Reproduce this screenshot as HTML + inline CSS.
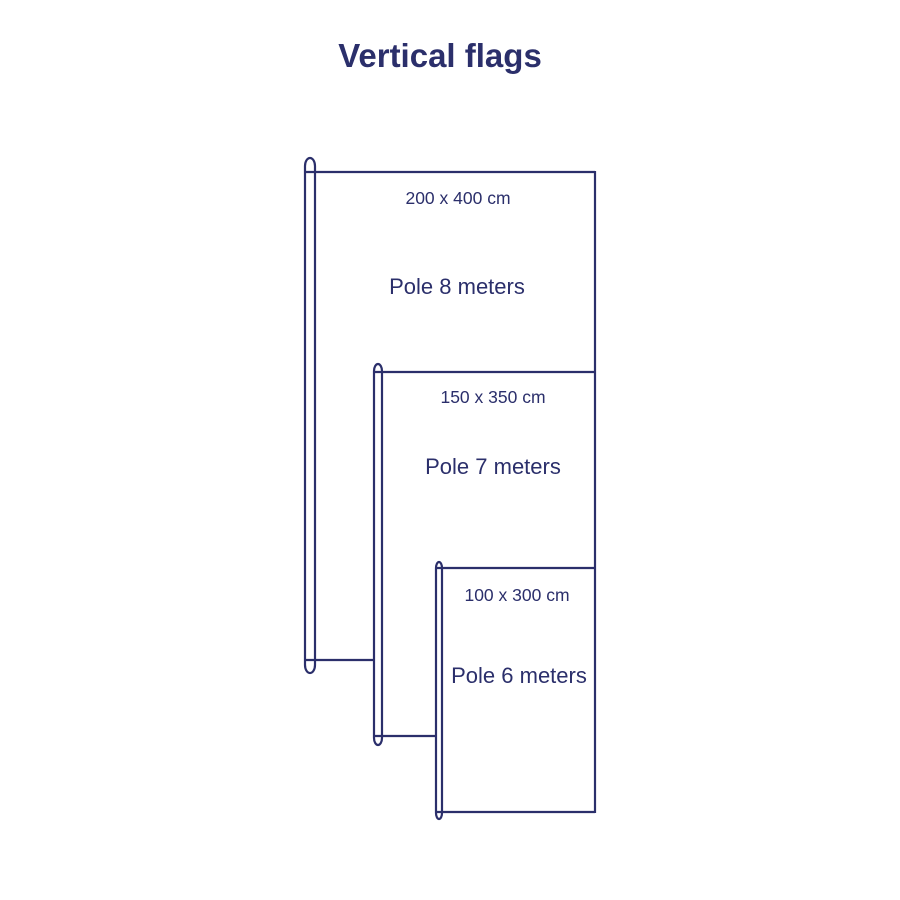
<!DOCTYPE html>
<html><head><meta charset="utf-8"><style>
html,body{margin:0;padding:0;background:#fff;}
svg{display:block;}
text{font-family:"Liberation Sans",sans-serif;fill:#2b2f6b;}
</style></head><body>
<svg width="900" height="900" viewBox="0 0 900 900" xmlns="http://www.w3.org/2000/svg">
<g fill="none" stroke="#2b2f6b" stroke-width="2.2">
  <rect x="305" y="158" width="10" height="515" rx="5" ry="8"/>
  <line x1="305" y1="172" x2="595" y2="172"/>
  <line x1="305" y1="660" x2="374" y2="660"/>
  <rect x="374" y="364" width="8" height="381" rx="4" ry="7"/>
  <line x1="374" y1="372" x2="595" y2="372"/>
  <line x1="374" y1="736" x2="436" y2="736"/>
  <rect x="436" y="562" width="6" height="257" rx="3" ry="6"/>
  <line x1="436" y1="568" x2="595" y2="568"/>
  <line x1="436" y1="812" x2="595" y2="812"/>
  <line x1="595" y1="171" x2="595" y2="813"/>
</g>
<text x="440" y="67" text-anchor="middle" font-size="33" font-weight="bold">Vertical flags</text>
<text x="458" y="204" text-anchor="middle" font-size="17.5">200 x 400 cm</text>
<text x="457" y="294" text-anchor="middle" font-size="22">Pole 8 meters</text>
<text x="493" y="403" text-anchor="middle" font-size="17.5">150 x 350 cm</text>
<text x="493" y="474" text-anchor="middle" font-size="22">Pole 7 meters</text>
<text x="517" y="601" text-anchor="middle" font-size="17.5">100 x 300 cm</text>
<text x="519" y="683" text-anchor="middle" font-size="22">Pole 6 meters</text>
</svg>
</body></html>
